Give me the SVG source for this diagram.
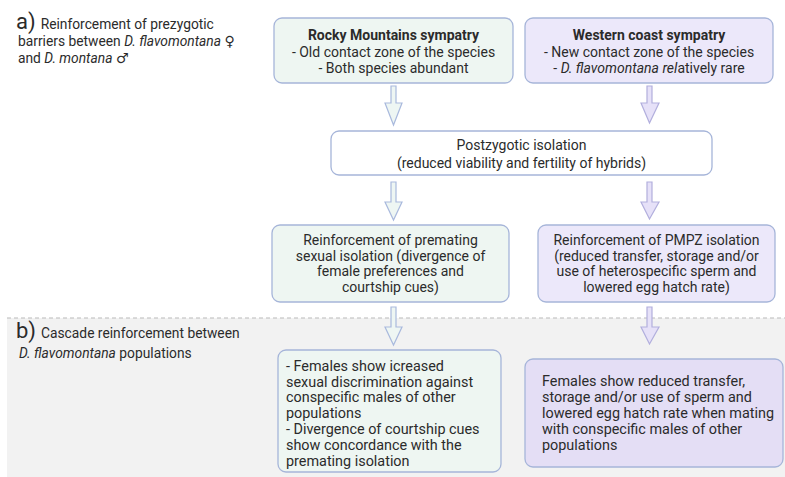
<svg xmlns="http://www.w3.org/2000/svg" width="785" height="477" viewBox="0 0 785 477">
<style>
text{font-family:Roboto,"Liberation Sans",sans-serif;fill:#2b2b2b}
.t{font-size:14px;text-anchor:middle}
.l{font-size:14.4px}
.h{font-size:13.8px}
.big{font-size:22px}
.b{font-weight:bold}
.i{font-style:italic}
.sym{font-family:"DejaVu Sans",sans-serif;font-size:14px}
.box{stroke:#a6b5d9;stroke-width:1.3}
.g{fill:#eef6f2}
.p{fill:#ece8fa}
.p2{fill:#e4def5}
.w{fill:#ffffff}
.ag{fill:#eef6f3;stroke:#a9b9dd;stroke-width:1.2}
.ap{fill:#e6e1f8;stroke:#b2afdd;stroke-width:1.2}
</style>
<rect x="0" y="0" width="785" height="477" fill="#ffffff"/>
<rect id="panel-b" x="7" y="318" width="778" height="159" fill="#f2f2f2"/>
<line x1="7" y1="318" x2="785" y2="318" stroke="#b9b9b9" stroke-width="1.2" stroke-dasharray="4,3"/>

<g id="label-a">
<text x="16" y="29"><tspan class="big">a)</tspan><tspan class="h" dx="5">Reinforcement of prezygotic</tspan></text>
<text class="h" x="18" y="46">barriers between <tspan class="i">D. flavomontana</tspan> <tspan class="sym">♀</tspan></text>
<text class="h" x="18" y="63">and <tspan class="i">D. montana</tspan> <tspan class="sym">♂</tspan></text>
</g>
<g id="label-b">
<text x="16" y="338"><tspan class="big">b)</tspan><tspan class="h" dx="5">Cascade reinforcement between</tspan></text>
<text class="h" x="19" y="358"><tspan class="i">D. flavomontana</tspan> populations</text>
</g>

<g id="connectors">
<polygon class="ag" points="391,86 396,86 396,103 402,103 393.5,125 385,103 391,103"/>
<polygon class="ap" points="647,86 652,86 652,103 659,103 649.5,123 641,103 647,103"/>
<polygon class="ag" points="391,182 396,182 396,202 402,202 393.5,220 385,202 391,202"/>
<polygon class="ap" points="647,182 652,182 652,202 659,202 649.5,219 641,202 647,202"/>
<polygon class="ag" points="391,307 396,307 396,327 402,327 393.5,345 385,327 391,327"/>
<polygon class="ap" points="647,307 652,307 652,327 659,327 649.5,344 641,327 647,327"/>
</g>

<g id="rocky">
<rect class="box g" x="274" y="18" width="239" height="65" rx="8"/>
<text class="t b" x="393.5" y="40">Rocky Mountains sympatry</text>
<text class="t" x="393.5" y="56.5">- Old contact zone of the species</text>
<text class="t" x="393.5" y="72.5">- Both species abundant</text>
</g>
<g id="western">
<rect class="box p" x="525" y="18" width="248" height="65" rx="8"/>
<text class="t b" x="649" y="40">Western coast sympatry</text>
<text class="t" x="649" y="56.5">- New contact zone of the species</text>
<text class="t" x="649" y="72.5">- <tspan class="i">D. flavomontana rel</tspan>atively rare</text>
</g>
<g id="postzygotic">
<rect class="box w" x="331" y="131" width="381" height="44" rx="8"/>
<text class="t" x="521.5" y="150">Postzygotic isolation</text>
<text class="t" x="521.5" y="168">(reduced viability and fertility of hybrids)</text>
</g>
<g id="premating">
<rect class="box g" x="272" y="225" width="237" height="77" rx="8"/>
<text class="t" x="390.5" y="245">Reinforcement of premating</text>
<text class="t" x="390.5" y="260.5">sexual isolation (divergence of</text>
<text class="t" x="390.5" y="276">female preferences and</text>
<text class="t" x="390.5" y="291.5">courtship cues)</text>
</g>
<g id="pmpz">
<rect class="box p" x="538" y="225" width="237" height="77" rx="8"/>
<text class="t" x="656.5" y="245">Reinforcement of PMPZ isolation</text>
<text class="t" x="656.5" y="260.5">(reduced transfer, storage and/or</text>
<text class="t" x="656.5" y="276">use of heterospecific sperm and</text>
<text class="t" x="656.5" y="291.5">lowered egg hatch rate)</text>
</g>
<g id="cascade-premating">
<rect class="box g" x="278" y="350" width="223" height="122" rx="8"/>
<text class="l" x="286" y="371">- Females show icreased</text>
<text class="l" x="286" y="386.5">sexual discrimination against</text>
<text class="l" x="286" y="402">conspecific males of other</text>
<text class="l" x="286" y="417.5">populations</text>
<text class="l" x="286" y="433.5">- Divergence of courtship cues</text>
<text class="l" x="286" y="449.5">show concordance with the</text>
<text class="l" x="286" y="465.5">premating isolation</text>
</g>
<g id="cascade-pmpz">
<rect class="box p2" x="525" y="359" width="258" height="108" rx="8"/>
<text class="l" x="542" y="386">Females show reduced transfer,</text>
<text class="l" x="542" y="402">storage and/or use of sperm and</text>
<text class="l" x="542" y="418">lowered egg hatch rate when mating</text>
<text class="l" x="542" y="434">with conspecific males of other</text>
<text class="l" x="542" y="450">populations</text>
</g>
</svg>
